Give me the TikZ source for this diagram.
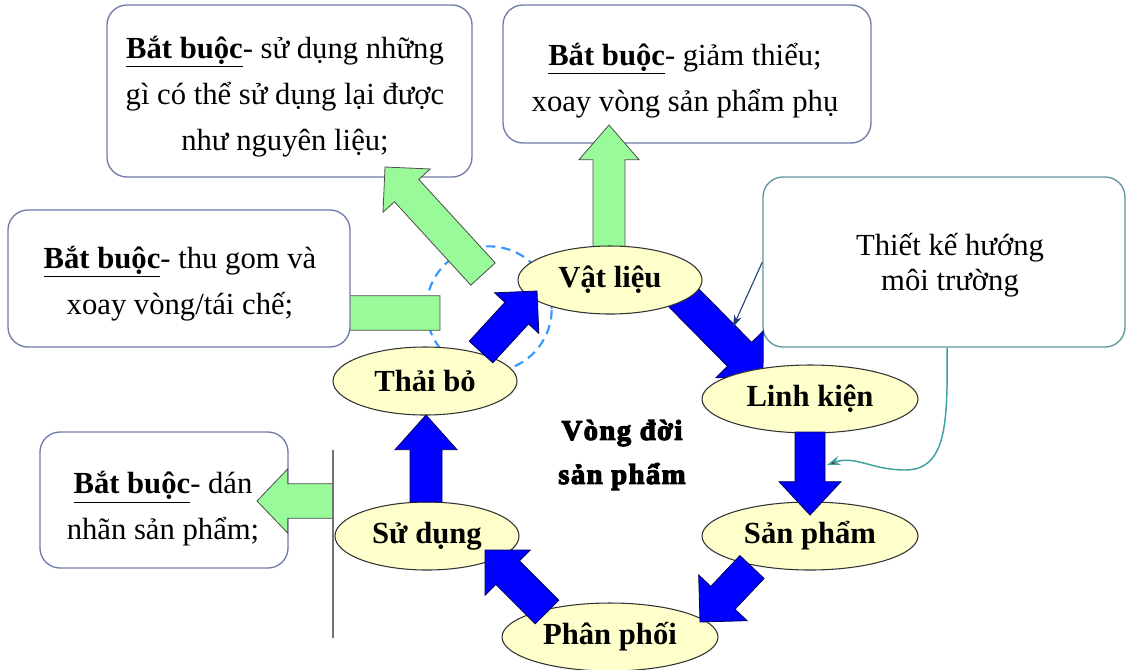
\documentclass[tikz,border=0pt]{standalone}
\usepackage{fontspec}
\setmainfont{Liberation Serif}
\newfontfamily\heavyfont{Liberation Serif}[FakeBold=4, BoldFeatures={FakeBold=4}, LetterSpace=5]
\usetikzlibrary{calc,shapes.geometric,arrows.meta}

\definecolor{boxline}{RGB}{112,124,170}
\definecolor{boxlineteal}{RGB}{96,150,158}
\definecolor{stagefill}{RGB}{255,255,204}
\definecolor{greenfill}{RGB}{153,250,153}
\definecolor{bluefill}{RGB}{0,0,255}
\definecolor{dashblue}{RGB}{51,153,255}
\definecolor{curveteal}{RGB}{64,160,160}
\definecolor{pointernavy}{RGB}{30,60,120}

% block arrow: #1 style, #2 tail, #3 tip, #4 shaft half-width, #5 head half-width, #6 head length
\newcommand\blockarrow[6]{%
  \coordinate (hb) at ($(#3)!#6!(#2)$);
  \draw[#1] ($(#2)!#4!90:(#3)$) -- ($(hb)!#4!90:(#3)$) -- ($(hb)!#5!90:(#3)$) -- (#3)
     -- ($(hb)!#5!-90:(#3)$) -- ($(hb)!#4!-90:(#3)$) -- ($(#2)!#4!-90:(#3)$) -- cycle;
}

\tikzset{
  rbox/.style={draw=boxline, line width=1pt, rounded corners=15pt, fill=white, inner sep=0pt},
  boxtext/.style={align=center, font=\fontsize{23}{34.5}\selectfont, inner sep=0pt},
  stage/.style={ellipse, draw=black!80, line width=0.8pt, fill=stagefill, inner sep=0pt,
    font=\fontsize{23}{26}\selectfont\bfseries},
  bluearrow/.style={fill=bluefill, draw=blue!35!black, line width=0.6pt, line join=miter},
  greenarrow/.style={fill=greenfill, draw=black!70, line width=0.6pt, line join=miter},
}

\begin{document}
\begin{tikzpicture}[x=0.75pt,y=-0.75pt]
\fill[white] (0,0) rectangle (1127,669);
\useasboundingbox (0,0) rectangle (1127,669);

% requirement boxes
\node[rbox, minimum width=273.75pt, minimum height=129pt] (boxA) at (289.5,91) {};
\node[rbox, minimum width=276pt, minimum height=103.5pt] (boxB) at (687,74) {};
\node[rbox, draw=boxlineteal, minimum width=271.5pt, minimum height=127.5pt] (boxD) at (944,262) {};
\node[rbox, minimum width=186pt, minimum height=102pt] (boxE) at (164,500) {};

% dashed ring around the recycling step
\node[circle, draw=dashblue, dashed, dash pattern=on 7pt off 4.5pt, line width=1.6pt,
  minimum size=94pt, inner sep=0pt] (ring) at (489,309) {};

% green requirement arrows
\coordinate (g1s) at (609,250); \coordinate (g1t) at (609,125);
\coordinate (g2s) at (483,274); \coordinate (g2t) at (385,167);
\coordinate (g3s) at (440,313); \coordinate (g3t) at (300,313);
\coordinate (g4s) at (333,501); \coordinate (g4t) at (257,501);
\blockarrow{greenarrow}{g1s}{g1t}{12pt}{22.5pt}{26pt}
\blockarrow{greenarrow}{g2s}{g2t}{12.4pt}{24pt}{24pt}
\blockarrow{greenarrow}{g3s}{g3t}{13pt}{24pt}{23pt}

\node[rbox, minimum width=256.5pt, minimum height=102.75pt] (boxC) at (179,278.5) {};
\blockarrow{greenarrow}{g4s}{g4t}{13pt}{24pt}{23pt}

% separator line
\coordinate (sepT) at (333,450); \coordinate (sepB) at (333,638);
\draw[black!55, line width=1.5pt] (sepT) -- (sepB);

% box texts
\node[boxtext] (txtA) at (285,97) {\underline{\textbf{Bắt buộc}}- sử dụng những\\gì có thể sử dụng lại được\\như nguyên liệu;};
\node[boxtext] (txtB) at (685,81) {\underline{\textbf{Bắt buộc}}- giảm thiểu;\\xoay vòng sản phẩm phụ};
\node[boxtext] (txtC) at (180,284) {\underline{\textbf{Bắt buộc}}- thu gom và\\xoay vòng/tái chế;};
\node[boxtext, font=\fontsize{23}{26}\selectfont] (txtD) at (950,265) {Thiết kế hướng\\môi trường};
\node[boxtext] (txtE) at (163,509) {\underline{\textbf{Bắt buộc}}- dán\\nhãn sản phẩm;};

% life-cycle arrows and stages
\coordinate (b1s) at (678,292); \coordinate (b1t) at (763,378);
\blockarrow{bluearrow}{b1s}{b1t}{12.75pt}{25pt}{25pt}

\node[stage, minimum width=138pt, minimum height=51pt] (vat) at (610,280) {Vật liệu};
\node[stage, minimum width=162pt, minimum height=51pt] (linh) at (810,399) {Linh kiện};
\node[stage, minimum width=162pt, minimum height=51pt] (san) at (810,536) {Sản phẩm};
\node[stage, minimum width=162pt, minimum height=51pt] (phan) at (610,637) {Phân phối};
\node[stage, minimum width=138pt, minimum height=51pt] (su) at (427,536) {Sử dụng};
\node[stage, minimum width=138pt, minimum height=51pt] (thai) at (425,381) {Thải bỏ};

\coordinate (b2s) at (810,432); \coordinate (b2t) at (810,515);
\coordinate (b3s) at (752,567); \coordinate (b3t) at (700,622);
\coordinate (b4s) at (547,612); \coordinate (b4t) at (485,550);
\coordinate (b5s) at (426,502); \coordinate (b5t) at (426,415);
\coordinate (b6s) at (481,352); \coordinate (b6t) at (537,291);
\blockarrow{bluearrow}{b2s}{b2t}{11.25pt}{23.25pt}{25pt}
\blockarrow{bluearrow}{b3s}{b3t}{12.5pt}{25pt}{25pt}
\blockarrow{bluearrow}{b4s}{b4t}{12.5pt}{24pt}{24pt}
\blockarrow{bluearrow}{b5s}{b5t}{12pt}{23.25pt}{26pt}
\blockarrow{bluearrow}{b6s}{b6t}{12pt}{22.5pt}{22.5pt}

\node[font=\heavyfont\bfseries\fontsize{21.5}{33}\selectfont, align=center, inner sep=0pt] (title) at (622,455) {Vòng đời\\sản phẩm};

% design-for-environment pointers
\coordinate (dfeTip) at (733,327);
\draw[pointernavy, line width=0.8pt, -{Stealth[length=9pt,width=6pt]}] (boxD.west) -- (dfeTip);
\coordinate (dfeEnd) at (827,465);
\draw[curveteal, line width=1.1pt, -{Stealth[length=10pt,width=7pt,fill=red!45!black]}]
  (947,348) .. controls (948,425) and (946,470) .. (905,470)
  .. controls (872,470) and (855,455) .. (dfeEnd);
\end{tikzpicture}
\end{document}
